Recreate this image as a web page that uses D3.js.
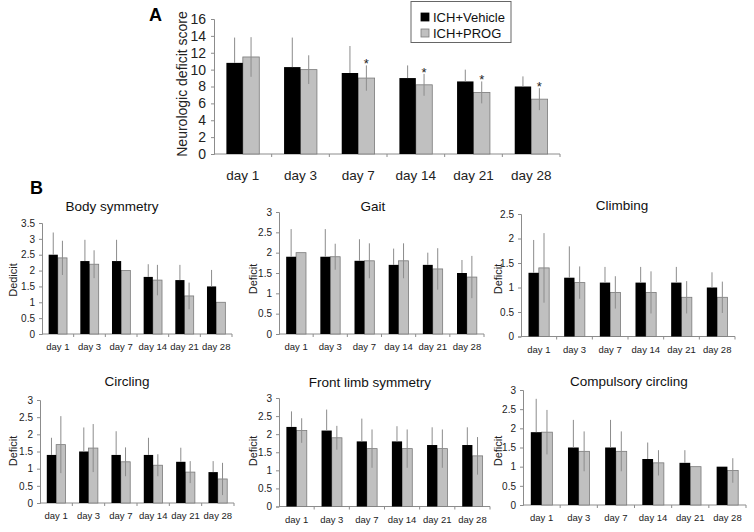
<!DOCTYPE html>
<html><head><meta charset="utf-8">
<script src="https://cdn.jsdelivr.net/npm/d3@7/dist/d3.min.js"></script>
<style>
html,body{margin:0;padding:0;background:#fff;}
svg{display:block;font-family:"Liberation Sans",Arial,sans-serif;}
</style></head>
<body><svg id="c" width="754" height="532"></svg>
<script>
const days = ["day 1","day 3","day 7","day 14","day 21","day 28"];
const seriesNames = ["ICH+Vehicle","ICH+PROG"];

// Panel A: neurologic deficit score
const scoreVehicle = [10.8, 10.3, 9.6, 9.0, 8.6, 8.0];
const scoreVehicleErr = [3.0, 3.5, 3.2, 1.5, 1.4, 1.2];
const scoreProg = [11.5, 10.0, 9.0, 8.2, 7.3, 6.5];
const scoreProgErr = [2.35, 1.7, 1.5, 1.3, 1.3, 1.3];
const scoreSignif = [false, false, true, true, true, true];
const scoreTicks = [0,2,4,6,8,10,12,14,16];

// Panel B subtests
const bodyVehicle = [2.5, 2.3, 2.3, 1.8, 1.7, 1.5];
const bodyVehicleErr = [0.7, 0.67, 0.67, 0.4, 0.48, 0.52];
const bodyProg = [2.4, 2.2, 2.0, 1.7, 1.2, 1.0];
const bodyProgErr = [0.54, 0.44, 0, 0.48, 0.42, 0];

const gaitVehicle = [1.9, 1.9, 1.8, 1.7, 1.7, 1.5];
const gaitVehicleErr = [0.68, 0.68, 0.53, 0.4, 0.3, 0.32];
const gaitProg = [2.0, 1.9, 1.8, 1.8, 1.6, 1.4];
const gaitProgErr = [0, 0.32, 0.43, 0.43, 0.51, 0.52];

const climbVehicle = [1.3, 1.2, 1.1, 1.1, 1.1, 1.0];
const climbVehicleErr = [0.67, 0.64, 0.32, 0.32, 0.32, 0.31];
const climbProg = [1.4, 1.1, 0.9, 0.9, 0.8, 0.8];
const climbProgErr = [0.71, 0.33, 0.33, 0.43, 0.33, 0.32];

const circVehicle = [1.4, 1.5, 1.4, 1.4, 1.2, 0.9];
const circVehicleErr = [0.5, 0.7, 0.69, 0.5, 0.41, 0.32];
const circProg = [1.7, 1.6, 1.2, 1.1, 0.9, 0.7];
const circProgErr = [0.83, 0.7, 0.42, 0.32, 0.32, 0.47];

const limbVehicle = [2.2, 2.1, 1.8, 1.8, 1.7, 1.7];
const limbVehicleErr = [0.43, 0.58, 0.63, 0.42, 0.49, 0.49];
const limbProg = [2.1, 1.9, 1.6, 1.6, 1.6, 1.4];
const limbProgErr = [0.34, 0.33, 0.53, 0.53, 0.53, 0.52];

const compVehicle = [1.9, 1.5, 1.5, 1.2, 1.1, 1.0];
const compVehicleErr = [0.87, 0.72, 0.72, 0.43, 0.33, 0];
const compProg = [1.9, 1.4, 1.4, 1.1, 1.0, 0.9];
const compProgErr = [0.58, 0.52, 0.52, 0.33, 0, 0.32];

const ticks35 = [0,0.5,1,1.5,2,2.5,3,3.5];
const ticks30 = [0,0.5,1,1.5,2,2.5,3];
const ticks25 = [0,0.5,1,1.5,2,2.5];

const svg = d3.select("#c");
const AXIS = "#8c8c8c", ERR = "#8c8c8c", GREY = "#c0c0c0", GREYSTROKE = "#7a7a7a";

function panel(o){
  const g = svg.append("g");
  const x = d3.scaleBand().domain(days).range([o.x0, o.x1]).paddingInner(o.pad).paddingOuter(o.pad/2);
  const y = d3.scaleLinear().domain([0, o.max]).range([o.y0, o.yTop]);
  const sub = d3.scaleBand().domain([0,1]).range([0, x.bandwidth()]);
  const rows = days.map((d,i)=>({d, v:o.v[i], ve:o.ve[i], p:o.p[i], pe:o.pe[i], s:o.sig?o.sig[i]:false}));

  // y axis
  const ya = d3.axisLeft(y).tickValues(o.ticks).tickSize(3).tickPadding(o.tp||4).tickFormat(d3.format("~g"));
  const yg = g.append("g").attr("transform",`translate(${o.x0},0)`).call(ya);
  yg.select(".domain").attr("stroke",AXIS);
  yg.selectAll(".tick line").attr("stroke",AXIS);
  yg.selectAll("text").attr("font-size",o.tf).attr("fill","#222").attr("font-family","Liberation Sans, Arial");

  // x axis line + boundary ticks
  const bounds = d3.range(0,days.length+1).map(i=> o.x0 + i*x.step());
  g.append("line").attr("x1",o.x0).attr("x2",o.x1).attr("y1",o.y0).attr("y2",o.y0).attr("stroke",AXIS);
  g.selectAll(".bt").data(bounds.slice(1)).join("line")
    .attr("x1",d=>d).attr("x2",d=>d).attr("y1",o.y0).attr("y2",o.y0+3).attr("stroke",AXIS);
  if(o.xLabels){
    g.selectAll(".xl").data(days).join("text")
      .attr("x",d=>x(d)+x.bandwidth()/2).attr("y",o.y0+o.xly)
      .attr("text-anchor","middle").attr("font-size",o.xf).attr("fill","#222").text(d=>d);
  }

  // grey bars + their error bars
  g.selectAll(".pb").data(rows).join("rect")
    .attr("x",r=>x(r.d)+sub(1)).attr("width",sub.bandwidth())
    .attr("y",r=>y(r.p)).attr("height",r=>y(0)-y(r.p))
    .attr("fill",GREY).attr("stroke",GREYSTROKE).attr("stroke-width",0.8);
  g.selectAll(".pe").data(rows.filter(r=>r.pe>0)).join("line")
    .attr("x1",r=>x(r.d)+sub(1)+sub.bandwidth()/2).attr("x2",r=>x(r.d)+sub(1)+sub.bandwidth()/2)
    .attr("y1",r=>y(r.p-r.pe)).attr("y2",r=>y(r.p+r.pe)).attr("stroke",ERR).attr("stroke-width",1);
  // black bars + upward error bars
  g.selectAll(".vb").data(rows).join("rect")
    .attr("x",r=>x(r.d)+sub(0)).attr("width",sub.bandwidth())
    .attr("y",r=>y(r.v)).attr("height",r=>y(0)-y(r.v)).attr("fill","#000");
  g.selectAll(".ve").data(rows.filter(r=>r.ve>0)).join("line")
    .attr("x1",r=>x(r.d)+sub.bandwidth()/2).attr("x2",r=>x(r.d)+sub.bandwidth()/2)
    .attr("y1",r=>y(r.v)).attr("y2",r=>y(r.v+r.ve)).attr("stroke",ERR).attr("stroke-width",1);
  if(o.sig){
    g.selectAll(".st").data(rows.filter(r=>r.s)).join("text")
      .attr("x",r=>x(r.d)+sub(1)+sub.bandwidth()/2).attr("y",r=>y(r.p+r.pe)+3)
      .attr("text-anchor","middle").attr("font-size",13).attr("fill","#222").text("*");
  }
  // title
  if(o.title){
    g.append("text").attr("x",o.tx).attr("y",o.ty).attr("text-anchor","middle")
      .attr("font-size",o.titleF).attr("fill","#111").text(o.title);
  }
  // y label
  g.append("text").attr("transform",`translate(${o.lx},${o.ly}) rotate(-90)`)
    .attr("text-anchor","middle").attr("font-size",o.lf).attr("fill","#222").text(o.ylab);
}

// Panel A
panel({x0:214,x1:560,y0:154,yTop:19,max:16,pad:0.43,v:scoreVehicle,ve:scoreVehicleErr,p:scoreProg,pe:scoreProgErr,
  sig:scoreSignif,ticks:scoreTicks,tf:14,tp:5,xLabels:true,xly:26,xf:13.5,ylab:"Neurologic deficit score",lx:187,ly:84,lf:14});
svg.append("text").attr("x",149).attr("y",21).attr("font-size",18).attr("font-weight","bold").text("A");
// legend
const lg = svg.append("g");
lg.append("rect").attr("x",411).attr("y",1.5).attr("width",100).attr("height",41).attr("fill","#fff").attr("stroke","#666");
seriesNames.forEach((n,i)=>{
  lg.append("rect").attr("x",421).attr("y",13+i*16).attr("width",8).attr("height",8)
    .attr("fill",i?GREY:"#000").attr("stroke",i?GREYSTROKE:"#000").attr("stroke-width",0.8);
  lg.append("text").attr("x",433).attr("y",22+i*16).attr("font-size",13).attr("fill","#111").text(n);
});
svg.append("text").attr("x",30).attr("y",194).attr("font-size",18).attr("font-weight","bold").text("B");

const common = {pad:0.42,tf:10,tp:4,xLabels:true,xly:16,xf:9.5,ylab:"Deficit",lf:11,titleF:13.5};
panel(Object.assign({},common,{x0:42,x1:232,y0:334,yTop:223,max:3.5,ticks:ticks35,v:bodyVehicle,ve:bodyVehicleErr,p:bodyProg,pe:bodyProgErr,
  title:"Body symmetry",tx:112,ty:211,lx:17,ly:280,ylab:"Dedicit"}));
panel(Object.assign({},common,{x0:279,x1:484,y0:334,yTop:212,max:3,ticks:ticks30,v:gaitVehicle,ve:gaitVehicleErr,p:gaitProg,pe:gaitProgErr,
  title:"Gait",tx:373,ty:211,lx:257,ly:279}));
panel(Object.assign({},common,{x0:521,x1:735,y0:336.5,yTop:214,max:2.5,ticks:ticks25,v:climbVehicle,ve:climbVehicleErr,p:climbProg,pe:climbProgErr,
  title:"Climbing",tx:622,ty:210,lx:502,ly:279}));
panel(Object.assign({},common,{x0:40,x1:234,y0:503,yTop:400,max:3,ticks:ticks30,v:circVehicle,ve:circVehicleErr,p:circProg,pe:circProgErr,
  title:"Circling",tx:127,ty:386,lx:17,ly:451}));
panel(Object.assign({},common,{x0:279,x1:490,y0:506.5,yTop:398,max:3,ticks:ticks30,v:limbVehicle,ve:limbVehicleErr,p:limbProg,pe:limbProgErr,
  title:"Front limb symmetry",tx:370,ty:387,lx:257,ly:451}));
panel(Object.assign({},common,{x0:523,x1:746,y0:505,yTop:390,max:3,ticks:ticks30,v:compVehicle,ve:compVehicleErr,p:compProg,pe:compProgErr,
  title:"Compulsory circling",tx:629,ty:386,lx:502,ly:451}));
</script></body></html>
